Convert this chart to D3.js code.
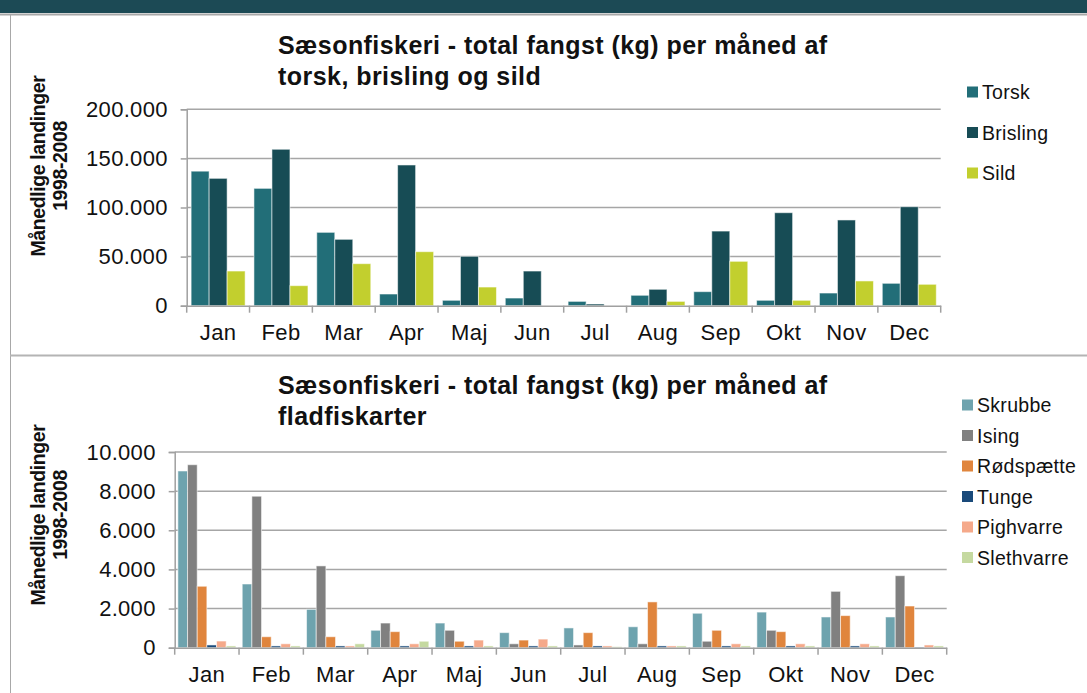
<!DOCTYPE html>
<html>
<head>
<meta charset="utf-8">
<script src="https://cdn.jsdelivr.net/npm/d3@7/dist/d3.min.js"></script>
<style>
  html, body { margin: 0; padding: 0; background: #fff; }
  svg { display: block; font-family: "Liberation Sans", Arial, sans-serif; }
</style>
</head>
<body>
<svg id="chart" width="1087" height="693"></svg>
<script>
// Months shared by both panels
const months = ["Jan", "Feb", "Mar", "Apr", "Maj", "Jun", "Jul", "Aug", "Sep", "Okt", "Nov", "Dec"];

// Panel 1: torsk, brisling, sild (kg per month)
const pelagicSeries = ["Torsk", "Brisling", "Sild"];
const torsk    = [137000, 119500, 74700, 11900, 5500, 7800, 4400, 10600, 14300, 5500, 12900, 22800];
const brisling = [129700, 159300, 67600, 143300, 50300, 35300, 1700, 16700, 76000, 94700, 87300, 100800];
const sild     = [35300, 20400, 42800, 55000, 19000, 0, 0, 4400, 45200, 5500, 25200, 21800];
const pelagicTicks = [0, 50000, 100000, 150000, 200000];

// Panel 2: flatfish species (kg per month)
const flatSeries = ["Skrubbe", "Ising", "Rødspætte", "Tunge", "Pighvarre", "Slethvarre"];
const skrubbe    = [9030, 3255, 1960, 890, 1260, 770, 1010, 1070, 1760, 1820, 1570, 1570];
const ising      = [9350, 7740, 4180, 1260, 890, 200, 140, 200, 330, 890, 2880, 3680];
const roedspaette= [3140, 560, 560, 820, 330, 390, 770, 2340, 890, 820, 1640, 2130];
const tunge      = [140, 90, 90, 90, 90, 90, 90, 90, 90, 90, 90, 30];
const pighvarre  = [340, 200, 90, 200, 390, 440, 90, 90, 200, 200, 200, 140];
const slethvarre = [90, 90, 200, 330, 90, 90, 50, 90, 90, 90, 90, 90];
const flatTicks = [0, 2000, 4000, 6000, 8000, 10000];

const svg = d3.select("#chart");
const fmt = d3.formatLocale({ decimal: ",", thousands: ".", grouping: [3], currency: ["", " kr"] }).format(",.0f");

// Frame: header band, rules
svg.append("rect").attr("x", 0).attr("y", 0).attr("width", 1087).attr("height", 13).attr("fill", "#1c4a55");
svg.append("line").attr("x1", 0).attr("x2", 1087).attr("y1", 14.5).attr("y2", 14.5).attr("stroke", "#a8a8a8").attr("stroke-width", 2);
svg.append("line").attr("x1", 10.5).attr("x2", 10.5).attr("y1", 15).attr("y2", 693).attr("stroke", "#a8a8a8").attr("stroke-width", 1);
svg.append("line").attr("x1", 10).attr("x2", 1087).attr("y1", 355.5).attr("y2", 355.5).attr("stroke", "#b4b4b4").attr("stroke-width", 2);

function drawPanel(cfg) {
  const g = svg.append("g");
  const x0 = d3.scaleBand().domain(months).range([cfg.left, cfg.right]).paddingInner(0).paddingOuter(0);
  const x1 = d3.scaleBand().domain(cfg.series).range([0, x0.bandwidth()]).paddingOuter(cfg.outerPad).paddingInner(0);
  const y = d3.scaleLinear().domain([0, cfg.max]).range([cfg.bottom, cfg.top]);

  // gridlines
  g.append("g").selectAll("line").data(cfg.ticks.filter(d => d > 0)).join("line")
    .attr("x1", cfg.left).attr("x2", cfg.right)
    .attr("y1", d => y(d)).attr("y2", d => y(d))
    .attr("stroke", "#a6a6a6").attr("stroke-width", 1.5);

  // y axis
  const yAxis = g.append("g").attr("transform", `translate(${cfg.left},0)`)
    .call(d3.axisLeft(y).tickValues(cfg.ticks).tickSize(6).tickPadding(cfg.tickPad).tickFormat(fmt));
  yAxis.select(".domain").attr("stroke", "#a0a0a0").attr("stroke-width", 1.5);
  yAxis.selectAll(".tick line").attr("stroke", "#a0a0a0").attr("stroke-width", 1.5);
  yAxis.selectAll("text").attr("font-size", cfg.tickFont).attr("fill", "#111")
    .attr("font-family", "Liberation Sans, Arial, sans-serif").attr("letter-spacing", 0.3);

  // bars
  const groups = g.append("g").selectAll("g").data(months).join("g")
    .attr("transform", m => `translate(${x0(m)},0)`);
  groups.selectAll("rect").data((m, i) => cfg.series.map((s, k) => ({ s, v: cfg.values[k][i] }))).join("rect")
    .attr("x", d => x1(d.s))
    .attr("width", x1.bandwidth())
    .attr("y", d => y(d.v))
    .attr("height", d => cfg.bottom - y(d.v))
    .attr("fill", (d, k) => cfg.colors[k])
    .attr("stroke", "rgba(255,255,255,0.55)").attr("stroke-width", 1);

  // x axis
  const xAxis = g.append("g").attr("transform", `translate(0,${cfg.bottom})`)
    .call(d3.axisBottom(x0).tickSize(0).tickPadding(cfg.xPad));
  xAxis.select(".domain").attr("stroke", "#a0a0a0").attr("stroke-width", 1.5);
  xAxis.selectAll("text").attr("font-size", cfg.xFont).attr("fill", "#111")
    .attr("font-family", "Liberation Sans, Arial, sans-serif").attr("letter-spacing", 0.4);
  g.append("g").selectAll("line").data(d3.range(13)).join("line")
    .attr("x1", i => cfg.left + i * x0.step()).attr("x2", i => cfg.left + i * x0.step())
    .attr("y1", cfg.bottom).attr("y2", cfg.bottom + 7)
    .attr("stroke", "#a0a0a0").attr("stroke-width", 1.5);

  // title
  const t = g.append("text").attr("x", cfg.titleX).attr("y", cfg.titleY)
    .attr("font-size", 25).attr("font-weight", "bold").attr("fill", "#111").attr("letter-spacing", 0.45);
  cfg.title.forEach((line, i) => t.append("tspan").attr("x", cfg.titleX).attr("dy", i ? 31 : 0).text(line));

  // y axis title
  const yt = g.append("text").attr("transform", `translate(${cfg.yTitleX},${cfg.yTitleY}) rotate(-90)`)
    .attr("text-anchor", "middle").attr("font-size", 19.5).attr("font-weight", "bold").attr("fill", "#111")
    .attr("letter-spacing", -0.4);
  yt.append("tspan").attr("x", 0).attr("dy", 0).text("Månedlige landinger");
  yt.append("tspan").attr("x", 0).attr("dy", 22).text("1998-2008");

  // legend
  const lg = g.append("g").selectAll("g").data(cfg.series).join("g")
    .attr("transform", (d, i) => `translate(${cfg.legX},${cfg.legY + i * cfg.legStep})`);
  lg.append("rect").attr("x", 0).attr("y", -5.5).attr("width", 11).attr("height", 11)
    .attr("fill", (d, i) => cfg.colors[i]);
  lg.append("text").attr("x", 15).attr("y", 7).attr("font-size", cfg.legFont).attr("fill", "#111")
    .attr("letter-spacing", 0.3).text(d => d);
}

drawPanel({
  series: pelagicSeries,
  values: [torsk, brisling, sild],
  colors: ["#226e78", "#174c55", "#c2cf2e"],
  left: 186.7, right: 940.7, top: 109.3, bottom: 305.7, max: 200000,
  ticks: pelagicTicks, outerPad: 0.245, tickPad: 13, tickFont: 22, xFont: 22, xPad: 19,
  title: ["Sæsonfiskeri - total fangst (kg) per måned af", "torsk, brisling og sild"],
  titleX: 278, titleY: 54,
  yTitleX: 45, yTitleY: 166,
  legX: 967, legY: 92, legStep: 40.5, legFont: 19.5
});

drawPanel({
  series: flatSeries,
  values: [skrubbe, ising, roedspaette, tunge, pighvarre, slethvarre],
  colors: ["#6ea3ae", "#808080", "#e0853d", "#1a4a7a", "#f5a98a", "#c5d9a0"],
  left: 174.7, right: 946.7, top: 452, bottom: 647.7, max: 10000,
  ticks: flatTicks, outerPad: 0.33, tickPad: 13, tickFont: 22, xFont: 22, xPad: 19,
  title: ["Sæsonfiskeri - total fangst (kg) per måned af", "fladfiskarter"],
  titleX: 278, titleY: 394,
  yTitleX: 45, yTitleY: 515,
  legX: 962, legY: 405, legStep: 30.5, legFont: 19.5
});
</script>
</body>
</html>
